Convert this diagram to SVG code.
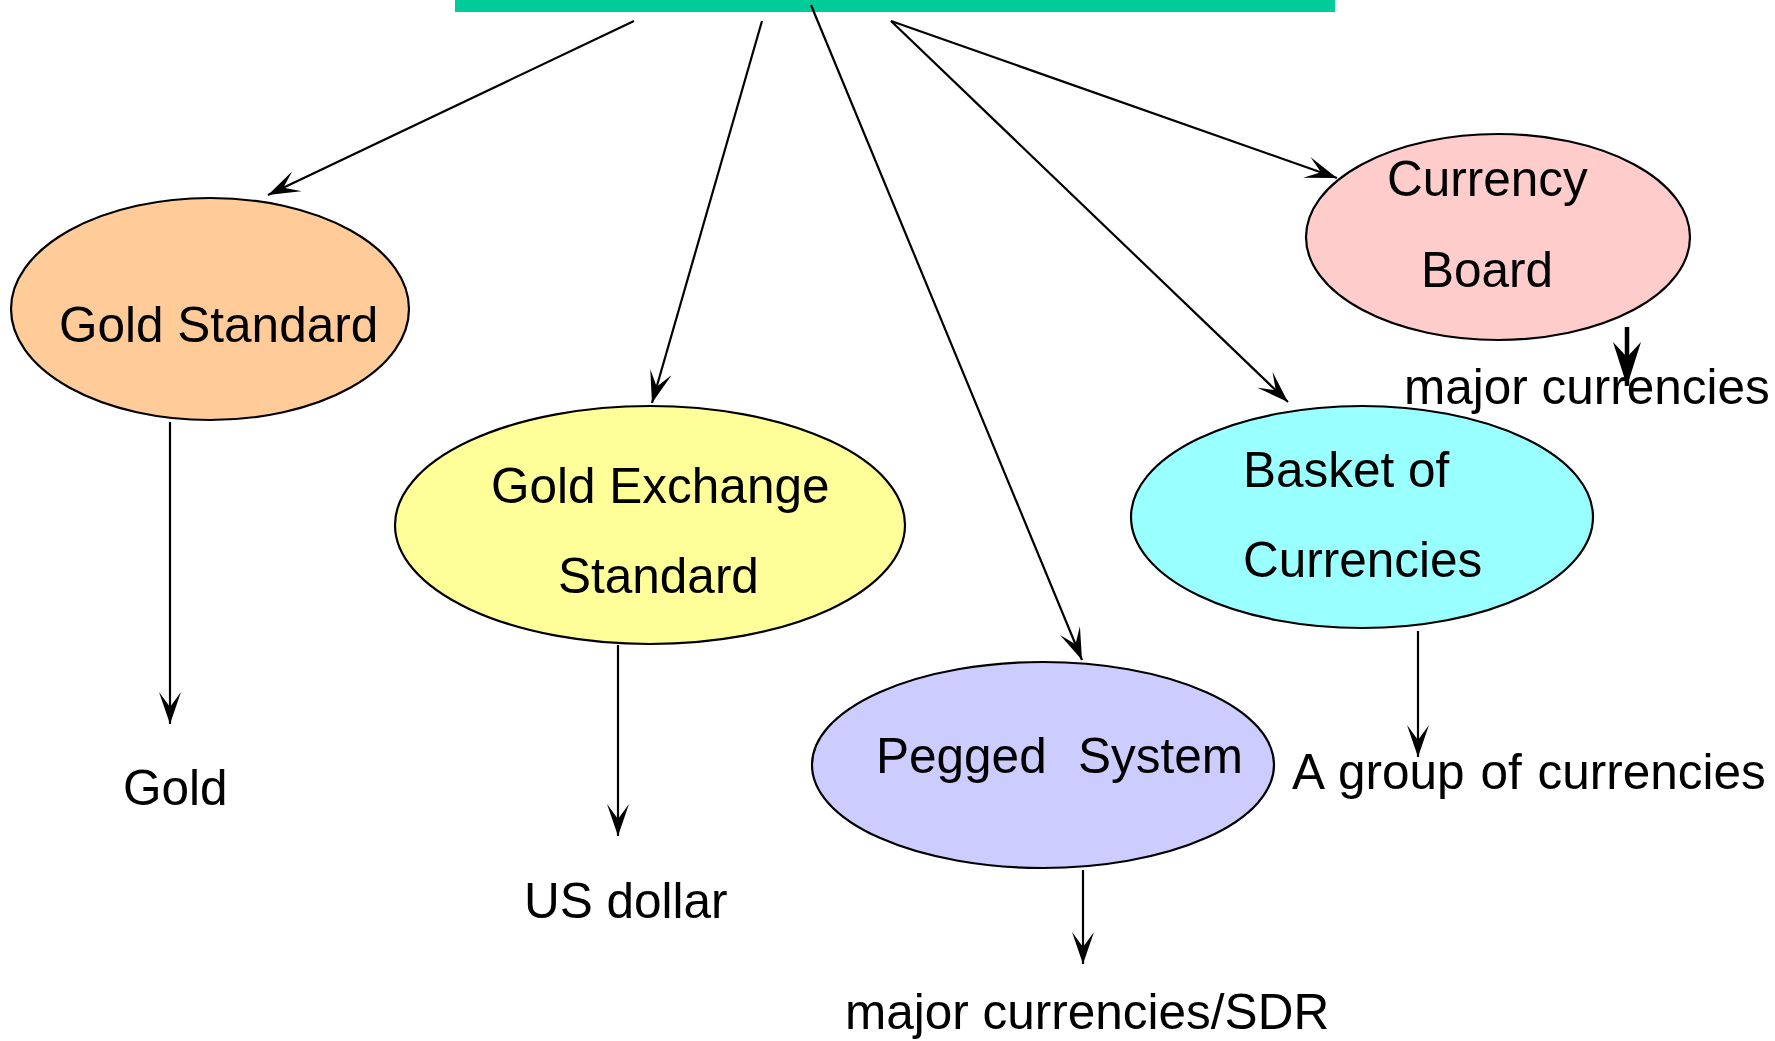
<svg xmlns="http://www.w3.org/2000/svg" width="1775" height="1041" viewBox="0 0 1775 1041">
  <defs>
    <style>
      .node { stroke: #000; stroke-width: 2.2; }
      .lbl { font-family: "Liberation Sans", Arial, sans-serif; font-size: 49.5px; fill: #000; }
      .conn { stroke: #000; stroke-width: 2.2; fill: none; marker-end: url(#arrow); }
      .conn-bold { stroke: #000; stroke-width: 4.5; fill: none; marker-end: url(#arrow-bold); }
    </style>
    <marker id="arrow" viewBox="-32 -11 33 22" refX="0" refY="0" markerWidth="33" markerHeight="22" markerUnits="userSpaceOnUse" orient="auto">
      <path d="M0,0 L-32,-11 L-17,0 L-32,11 Z" fill="#000"/>
    </marker>
    <marker id="arrow-bold" viewBox="-44 -14 45 28" refX="0" refY="0" markerWidth="45" markerHeight="28" markerUnits="userSpaceOnUse" orient="auto">
      <path d="M0,0 L-44,-14 L-29,0 L-44,14 Z" fill="#000"/>
    </marker>
  </defs>

  <rect width="1775" height="1041" fill="#fff"/>

  <!-- header bar -->
  <rect id="header-bar" x="455" y="0" width="880" height="12" fill="#00CC99"/>

  <!-- connectors -->
  <g id="connectors">
    <path class="conn" d="M634,21 L268,195"/>
    <path class="conn" d="M762,21 L652,403"/>
    <path class="conn" d="M811,5 L1082,660"/>
    <path class="conn" d="M891,21 L1288,402"/>
    <path class="conn" d="M891,21 L1337,178"/>
    <path class="conn" d="M170,422 L170,724"/>
    <path class="conn" d="M618,645 L618,836"/>
    <path class="conn" d="M1083,870 L1083,964"/>
    <path class="conn" d="M1418,631 L1418,757"/>
    <path class="conn-bold" d="M1627,327 L1627,386"/>
  </g>

  <!-- regimes -->
  <g id="gold-standard">
    <ellipse class="node" cx="210" cy="309" rx="199" ry="111" fill="#FFCC99"/>
    <text class="lbl" x="59" y="342">Gold Standard</text>
  </g>

  <g id="gold-exchange-standard">
    <ellipse class="node" cx="650" cy="525" rx="255" ry="119" fill="#FFFF99"/>
    <text class="lbl" x="491" y="503">Gold Exchange</text>
    <text class="lbl" x="558" y="593">Standard</text>
  </g>

  <g id="pegged-system">
    <ellipse class="node" cx="1043" cy="765" rx="231" ry="103" fill="#CCCCFF"/>
    <text class="lbl" x="876" y="773">Pegged<tspan x="1078">System</tspan></text>
  </g>

  <g id="basket-of-currencies">
    <ellipse class="node" cx="1362" cy="517" rx="231" ry="111" fill="#99FFFF"/>
    <text class="lbl" x="1243" y="487">Basket of</text>
    <text class="lbl" x="1243" y="577">Currencies</text>
  </g>

  <g id="currency-board">
    <ellipse class="node" cx="1498" cy="237" rx="192" ry="103" fill="#FFCCCC"/>
    <text class="lbl" x="1387" y="196">Currency</text>
    <text class="lbl" x="1421" y="287">Board</text>
  </g>

  <!-- anchors -->
  <g id="anchor-gold"><text class="lbl" x="123" y="805">Gold</text></g>
  <g id="anchor-us-dollar"><text class="lbl" x="524" y="918">US dollar</text></g>
  <g id="anchor-sdr"><text class="lbl" x="845" y="1029">major currencies/SDR</text></g>
  <g id="anchor-group"><text class="lbl" x="1292" y="789" word-spacing="2">A group of currencies</text></g>
  <g id="anchor-major"><text class="lbl" x="1404" y="404">major currencies</text></g>
</svg>
